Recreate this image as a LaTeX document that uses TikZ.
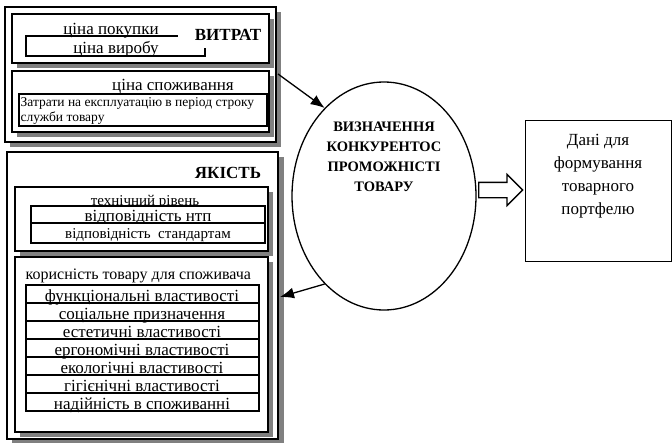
\documentclass[tikz,border=0pt]{standalone}
\usepackage{fontspec}
\setmainfont{Liberation Serif}
\usetikzlibrary{arrows.meta,shapes.geometric,shapes.arrows}

\tikzset{
  shadowbox/.style={fill=black!50,draw=none},
  panel/.style={draw,fill=white,line width=1.8pt},
  frame/.style={draw,fill=white,line width=1.3pt},
  big/.style={font=\fontsize{17}{20}\selectfont,anchor=base,inner sep=0pt},
  mid/.style={font=\fontsize{15}{17}\selectfont,anchor=base,inner sep=0pt},
  note/.style={font=\fontsize{13.5}{16}\selectfont,anchor=base west,inner sep=0pt},
  head/.style={font=\fontsize{17}{20}\selectfont\bfseries,anchor=base,inner sep=0pt},
  rowtext/.style={font=\fontsize{17}{18}\selectfont,anchor=base,inner sep=0pt}
}

\begin{document}
\begin{tikzpicture}[x=1pt,y=-1pt,line width=1.3pt]
\useasboundingbox (0,0) rectangle (672,442);

% витрати
\fill[shadowbox] (10,12) rectangle (281,147);
\draw[panel] (5,7) rectangle (276,142);
\fill[shadowbox] (17,19) rectangle (274,68);
\draw[frame] (12,14) rectangle (269,63);
\node[big] (pokup) at (111,34) {ціна покупки};
\node[head] (vytrat) at (228,40) {ВИТРАТ};
\draw (205,48) -- (205,56) -- (26,56) -- (26,36) -- (178,36);
\node[big] (vyrib) at (116,53) {ціна виробу};
\fill[shadowbox] (17,76) rectangle (274,137);
\draw[frame] (12,71) rectangle (269,132);
\node[big] (spozh) at (173,90.5) {ціна споживання};
\draw[frame] (19,94) rectangle (267,126);
\node[note] (zatr1) at (20,106) {Затрати на експлуатацію в період строку};
\node[note] (zatr2) at (20,121) {служби товару};

% якість
\fill[shadowbox] (12,157) rectangle (284,444);
\draw[panel] (7,152) rectangle (278,439);
\node[head] (yakist) at (228,178) {ЯКІСТЬ};
\fill[shadowbox] (20,192) rectangle (273,256);
\draw[frame] (15,187) rectangle (268,251);
\node[mid] (tekhn) at (145,205.5) {технічний рівень};
\draw[frame] (31,206) rectangle (265,223);
\node[big] (ntp) at (148,221.5) {відповідність нтп};
\draw[frame] (31,223) rectangle (265,243);
\node[mid] (stand) at (148,238) {відповідність\ \ стандартам};
\fill[shadowbox] (20,262) rectangle (273,437);
\draw[frame] (15,257) rectangle (268,432);
\node[font=\fontsize{16}{18}\selectfont,anchor=base west,inner sep=0pt] (korysn) at (25,279)
  {корисність товару для споживача};
\draw (26,285) rectangle (259,411);
\draw (26,303) -- (259,303);
\draw (26,321) -- (259,321);
\draw (26,339) -- (259,339);
\draw (26,357) -- (259,357);
\draw (26,375) -- (259,375);
\draw (26,393) -- (259,393);
\node[rowtext] (r1) at (142,301.5) {функціональні властивості};
\node[rowtext] (r2) at (142,319.5) {соціальне призначення};
\node[rowtext] (r3) at (142,337.5) {естетичні властивості};
\node[rowtext] (r4) at (142,355.5) {ергономічні властивості};
\node[rowtext] (r5) at (142,373.5) {екологічні властивості};
\node[rowtext] (r6) at (142,391.5) {гігієнічні властивості};
\node[rowtext] (r7) at (142,409.5) {надійність в споживанні};

% коло
\node[draw,ellipse,minimum width=184pt,minimum height=228pt] (circ) at (384,196) {};
\node[font=\fontsize{14.5}{20}\selectfont\bfseries,align=center] (circtext) at (384,157)
  {ВИЗНАЧЕННЯ\\КОНКУРЕНТОС\\ПРОМОЖНІСТІ\\ТОВАРУ};

% дані
\node[draw,minimum width=146pt,minimum height=141pt,anchor=west] (dani) at (525,191) {};
\node[font=\fontsize{17}{23}\selectfont,align=center] (danitext) at (598,176)
  {Дані для\\формування\\товарного\\портфелю};

% стрілки
\coordinate (vytr) at (278,74);
\coordinate (yak) at (280,297);
\draw[-{Latex[length=14pt,width=11pt]}] (vytr) -- (circ.124);
\draw[-{Latex[length=14pt,width=11pt]}] (circ.236) -- (yak);
\node[single arrow,draw,fill=white,line width=1.3pt,minimum height=44pt,
  single arrow head extend=8pt,inner sep=7pt,anchor=tail] (harrow) at (478,190) {};
\end{tikzpicture}
\end{document}
